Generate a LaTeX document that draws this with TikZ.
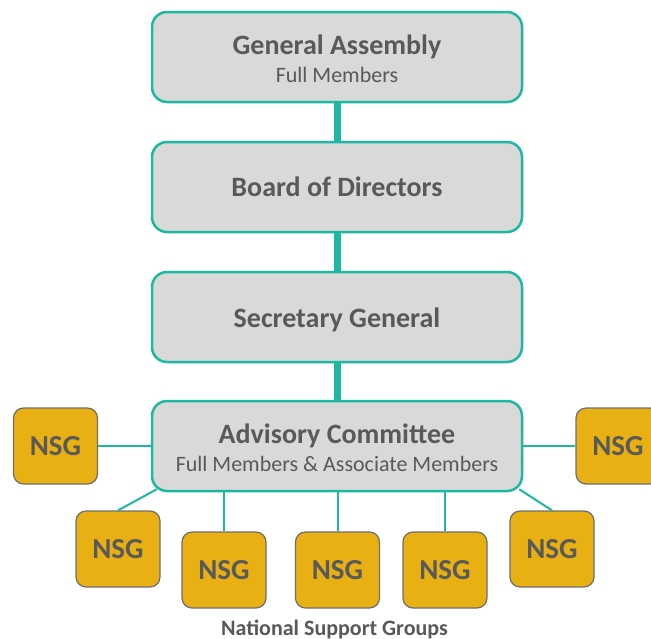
\documentclass[tikz,border=0pt]{standalone}
\usepackage{fontspec}
\setmainfont{Carlito}
\definecolor{teal1}{HTML}{1CB8A2}
\definecolor{boxgray}{HTML}{D9D9D9}
\definecolor{txtgray}{HTML}{595959}
\definecolor{gold}{HTML}{E8B012}
\definecolor{nsgedge}{HTML}{6E6E6E}
\begin{document}
\begin{tikzpicture}[x=1pt,y=-1pt,
  mainbox/.style={draw=teal1,line width=2.5pt,fill=boxgray,rounded corners=15pt,
    minimum width=370pt,minimum height=90pt,inner sep=0pt,text=txtgray,align=center},
  nsgbox/.style={draw=nsgedge,line width=1.2pt,fill=gold,rounded corners=10pt,
    minimum width=84pt,minimum height=76pt,inner sep=0pt,text=txtgray,
    font=\fontsize{29}{32}\selectfont\bfseries},
  trunk/.style={draw=teal1,line width=7pt},
  twig/.style={draw=teal1,line width=2pt},
  title/.style={anchor=base,inner sep=0pt,text=txtgray,font=\fontsize{28}{32}\selectfont\bfseries},
  sub/.style={anchor=base,inner sep=0pt,text=txtgray,font=\fontsize{22}{26}\selectfont}]
\clip (0,0) rectangle (651,638);
\fill[white] (0,0) rectangle (651,638);
% trunk connectors (drawn first, behind boxes)
\coordinate (c1) at (337,57);
\coordinate (c2) at (337,187);
\coordinate (c3) at (337,317);
\coordinate (c4) at (337,446);
\draw[trunk] (c1) -- (c2);
\draw[trunk] (c2) -- (c3);
\draw[trunk] (c3) -- (c4);
% NSG boxes
\node[nsgbox] (nl) at (55.5,446) {NSG};
\node[nsgbox] (nr) at (618,446) {NSG};
\node[nsgbox] (n1) at (118,549) {NSG};
\node[nsgbox] (n2) at (224,570) {NSG};
\node[nsgbox] (n3) at (337.5,570) {NSG};
\node[nsgbox] (n4) at (445,570) {NSG};
\node[nsgbox] (n5) at (552,549) {NSG};
% main boxes
\node[mainbox] (ga) at (337,57) {};
\node[mainbox] (bd) at (337,187) {};
\node[mainbox] (sg) at (337,317) {};
\node[mainbox] (ac) at (337,446) {};
% texts
\node[title] (gat) at (337,54) {General Assembly};
\node[sub] (gas) at (337,82) {Full Members};
\node[title] (bdt) at (337,196) {Board of Directors};
\node[title] (sgt) at (337,327) {Secretary General};
\node[title] (act) at (337,443) {Advisory Committee};
\node[sub] (acs) at (337,471) {Full Members \& Associate Members};
% twig connectors
\draw[twig] (nl.east) -- (ac.west);
\draw[twig] (ac.east) -- (nr.west);
\draw[twig] (ac.south west) ++(6,-3) coordinate (d1) -- (n1.north);
\draw[twig] (ac.south east) ++(-4,-3) coordinate (d5) -- (n5.north);
\draw[twig] (n2.north) -- (n2.north |- ac.south);
\draw[twig] (n3.north) -- (n3.north |- ac.south);
\draw[twig] (n4.north) -- (n4.north |- ac.south);
% caption
\node[anchor=base,inner sep=0pt,text=txtgray,font=\fontsize{22}{26}\selectfont\bfseries] (cap) at (334.5,635) {National Support Groups};
\end{tikzpicture}
\end{document}
